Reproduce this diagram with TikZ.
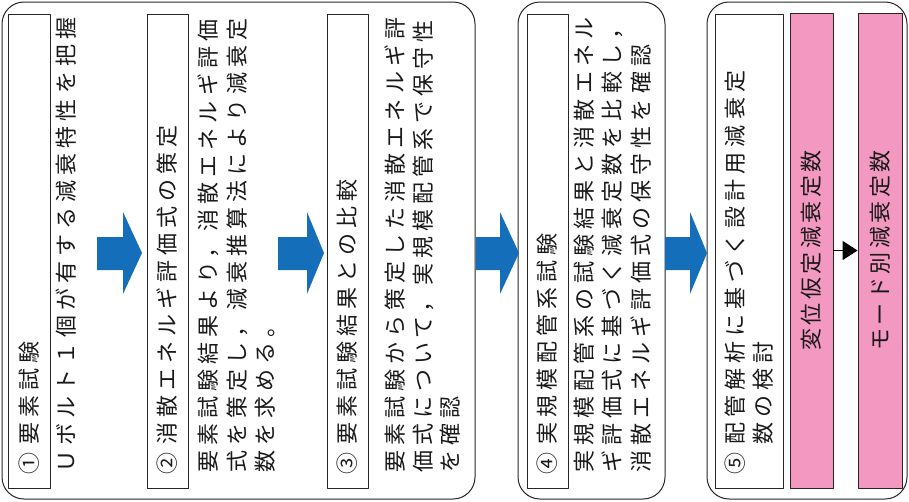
\documentclass[tikz,border=0pt]{standalone}
\usepackage{fontspec}
\usetikzlibrary{arrows.meta}
\newfontfamily\jp[LetterSpace=23]{Noto Sans CJK JP}
\newfontfamily\jpp[LetterSpace=16]{Noto Sans CJK JP}
\definecolor{flowblue}{RGB}{20,110,186}
\definecolor{modepink}{RGB}{243,152,192}
\tikzset{
  frame/.style={draw=black!85, line width=1pt, rounded corners=22pt},
  headbox/.style={draw=black!85, line width=0.9pt, rotate=90, minimum width=474pt, text width=446pt, inner xsep=14pt, align=left},
  bodyline/.style={rotate=90, anchor=west, inner sep=0pt, text height=0.88em, text depth=0.12em},
  pinkbox/.style={draw=black!85, line width=0.9pt, fill=modepink, rotate=90, minimum width=475pt, font=\jpp\fontsize{22pt}{28pt}\selectfont},
}
% blue block arrow: start, head base, tip
\newcommand\flowarrow[3]{\fill[flowblue] (#1,237)--(#2,237)--(#2,212)--(#3,253)--(#2,294)--(#2,270)--(#1,270)--cycle;}
\begin{document}
\begin{tikzpicture}[x=1pt, y=-1pt, font=\jp\fontsize{22pt}{28pt}\selectfont, text=black!90, line join=round]
\useasboundingbox (0,0) rectangle (909,501);
% frames
\node[frame, minimum width=473pt, minimum height=497pt] (f1) at (238.5,250.5) {};
\node[frame, minimum width=147pt, minimum height=497pt] (f2) at (591.5,250.5) {};
\node[frame, minimum width=200pt, minimum height=497pt] (f3) at (807,250.5) {};
% headings
\node[headbox, minimum height=42pt] (h1) at (29,251) {① 要素試験};
\node[headbox, minimum height=41pt] (h2) at (167.5,251) {② 消散エネルギ評価式の策定};
\node[headbox, minimum height=41pt] (h3) at (347.5,251) {③ 要素試験結果との比較};
\node[headbox, minimum height=41pt] (h4) at (547.5,251) {④ 実規模配管系試験};
\node[headbox, minimum height=68pt] (h5) at (749,251) {⑤ 配管解析に基づく設計用減衰定\\\phantom{⑤ }数の検討};
% bodies
\node[bodyline] (b1a) at (71,473) {Ｕボルト１個が有する減衰特性を把握};
\node[bodyline] (b2a) at (213,473) {要素試験結果より，消散エネルギ評価};
\node[bodyline] (b2b) at (242,473) {式を策定し，減衰推算法により減衰定};
\node[bodyline] (b2c) at (270,473) {数を求める。};
\node[bodyline] (b3a) at (400,473) {要素試験から策定した消散エネルギ評};
\node[bodyline] (b3b) at (428,473) {価式について，実規模配管系で保守性};
\node[bodyline] (b3c) at (455,473) {を確認};
\node[bodyline] (b4a) at (589,473) {実規模配管系の試験結果と消散エネル};
\node[bodyline] (b4b) at (617,473) {ギ評価式に基づく減衰定数を比較し，};
\node[bodyline] (b4c) at (646,473) {消散エネルギ評価式の保守性を確認};
% damping constants
\node[pinkbox, minimum height=43pt] (p1) at (811.5,250.5) {変位仮定減衰定数};
\node[pinkbox, minimum height=44pt] (p2) at (880,250.5) {モード別減衰定数};
\draw[line width=1.6pt, -{Triangle[length=15pt, width=19pt]}] (p1) -- (p2);
% flow
\flowarrow{97}{123}{142}
\flowarrow{278}{307}{324}
\flowarrow{476}{500}{519}
\flowarrow{665}{690}{707}
\end{tikzpicture}
\end{document}
